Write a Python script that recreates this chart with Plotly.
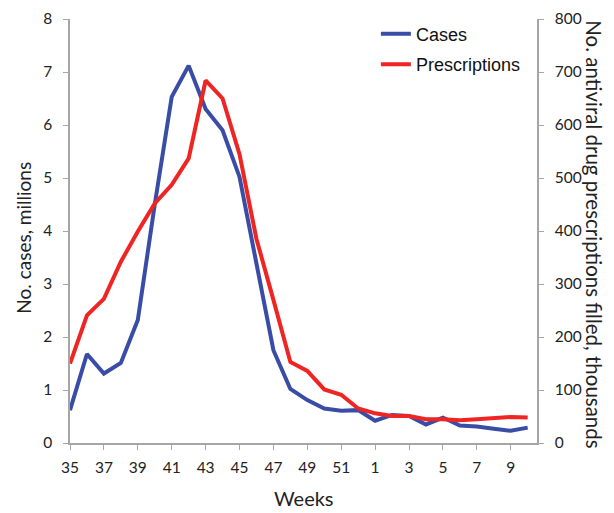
import plotly.graph_objects as go

weeks = [35, 36, 37, 38, 39, 40, 41, 42, 43, 44, 45, 46, 47, 48, 49, 50, 51, 52,
         1, 2, 3, 4, 5, 6, 7, 8, 9, 10]
cases_millions = [0.62, 1.68, 1.31, 1.51, 2.32, 4.5, 6.53, 7.12, 6.3, 5.9, 5.02, 3.38,
                  1.75, 1.02, 0.81, 0.65, 0.61, 0.62, 0.42, 0.53, 0.51, 0.35, 0.48,
                  0.33, 0.31, 0.27, 0.23, 0.29]
prescriptions_thousands = [150, 241, 272, 342, 399, 452, 487, 537, 684, 650, 545, 385,
                           270, 153, 136, 101, 91, 65, 56, 51, 51, 45, 45, 43, 45, 47,
                           49, 48]
tick_labels = [str(w) for w in weeks]

idx = list(range(len(weeks)))
BLUE = "#3A4DA6"
RED = "#EE2523"
AXIS = "#A6A6A6"
FONT = "Lato, Open Sans, sans-serif"

fig = go.Figure()
fig.add_trace(go.Scatter(x=idx, y=cases_millions, mode="lines", name="Cases",
                         line=dict(color=BLUE, width=4), legendgroup="a"))
fig.add_trace(go.Scatter(x=idx, y=prescriptions_thousands, mode="lines", name="Prescriptions",
                         line=dict(color=RED, width=4), yaxis="y2", legendgroup="b"))

fig.update_layout(
    width=614, height=513,
    margin=dict(l=70, r=77, t=19, b=70, autoexpand=False),
    paper_bgcolor="white", plot_bgcolor="white",
    font=dict(family=FONT, size=15, color="#222222"),
    showlegend=True,
    legend=dict(x=0.655, y=1.008, xanchor="left", yanchor="top",
                bgcolor="rgba(0,0,0,0)", tracegroupgap=4,
                font=dict(family="Liberation Sans, Arial, sans-serif", size=18, color="#111111"),
                itemwidth=30),
    xaxis=dict(range=[0, 27.55], tickmode="array",
               tickvals=idx[::2], ticktext=tick_labels[::2],
               showline=True, linecolor=AXIS, linewidth=1.5,
               ticks="outside", tickcolor=AXIS, ticklen=5, ticklabelstandoff=5,
               tickfont=dict(size=15.5),
               showgrid=False, zeroline=False, automargin=False),
    yaxis=dict(range=[0, 8], dtick=1, showline=True, linecolor=AXIS, linewidth=1.5,
               ticks="outside", tickcolor=AXIS, ticklen=5, ticklabelstandoff=8,
               tickfont=dict(size=15.5),
               showgrid=False, zeroline=False, automargin=False),
    yaxis2=dict(range=[0, 800], dtick=100, overlaying="y", side="right",
                showline=True, linecolor=AXIS, linewidth=1.5,
                ticks="outside", tickcolor=AXIS, ticklen=5, ticklabelstandoff=8,
                tickfont=dict(size=15.5),
                showgrid=False, zeroline=False, automargin=False),
    annotations=[
        dict(text="Weeks", xref="paper", yref="paper",
             x=0.5, y=-0.13, xanchor="center", yanchor="middle",
             showarrow=False, font=dict(size=20)),
        dict(text="No. cases, millions", xref="paper", yref="paper",
             x=-0.1, y=0.485, xanchor="center", yanchor="middle",
             textangle=-90, showarrow=False, font=dict(size=19)),
        dict(text="No. antiviral drug prescriptions filled, thousands",
             xref="paper", yref="paper", x=1.122, y=0.49,
             xanchor="center", yanchor="middle",
             textangle=90, showarrow=False, font=dict(size=20.5)),
    ],
)

fig.write_html("out.html", config={"displayModeBar": False},
               post_script="document.body.style.margin='0';document.body.style.overflow='hidden';")
